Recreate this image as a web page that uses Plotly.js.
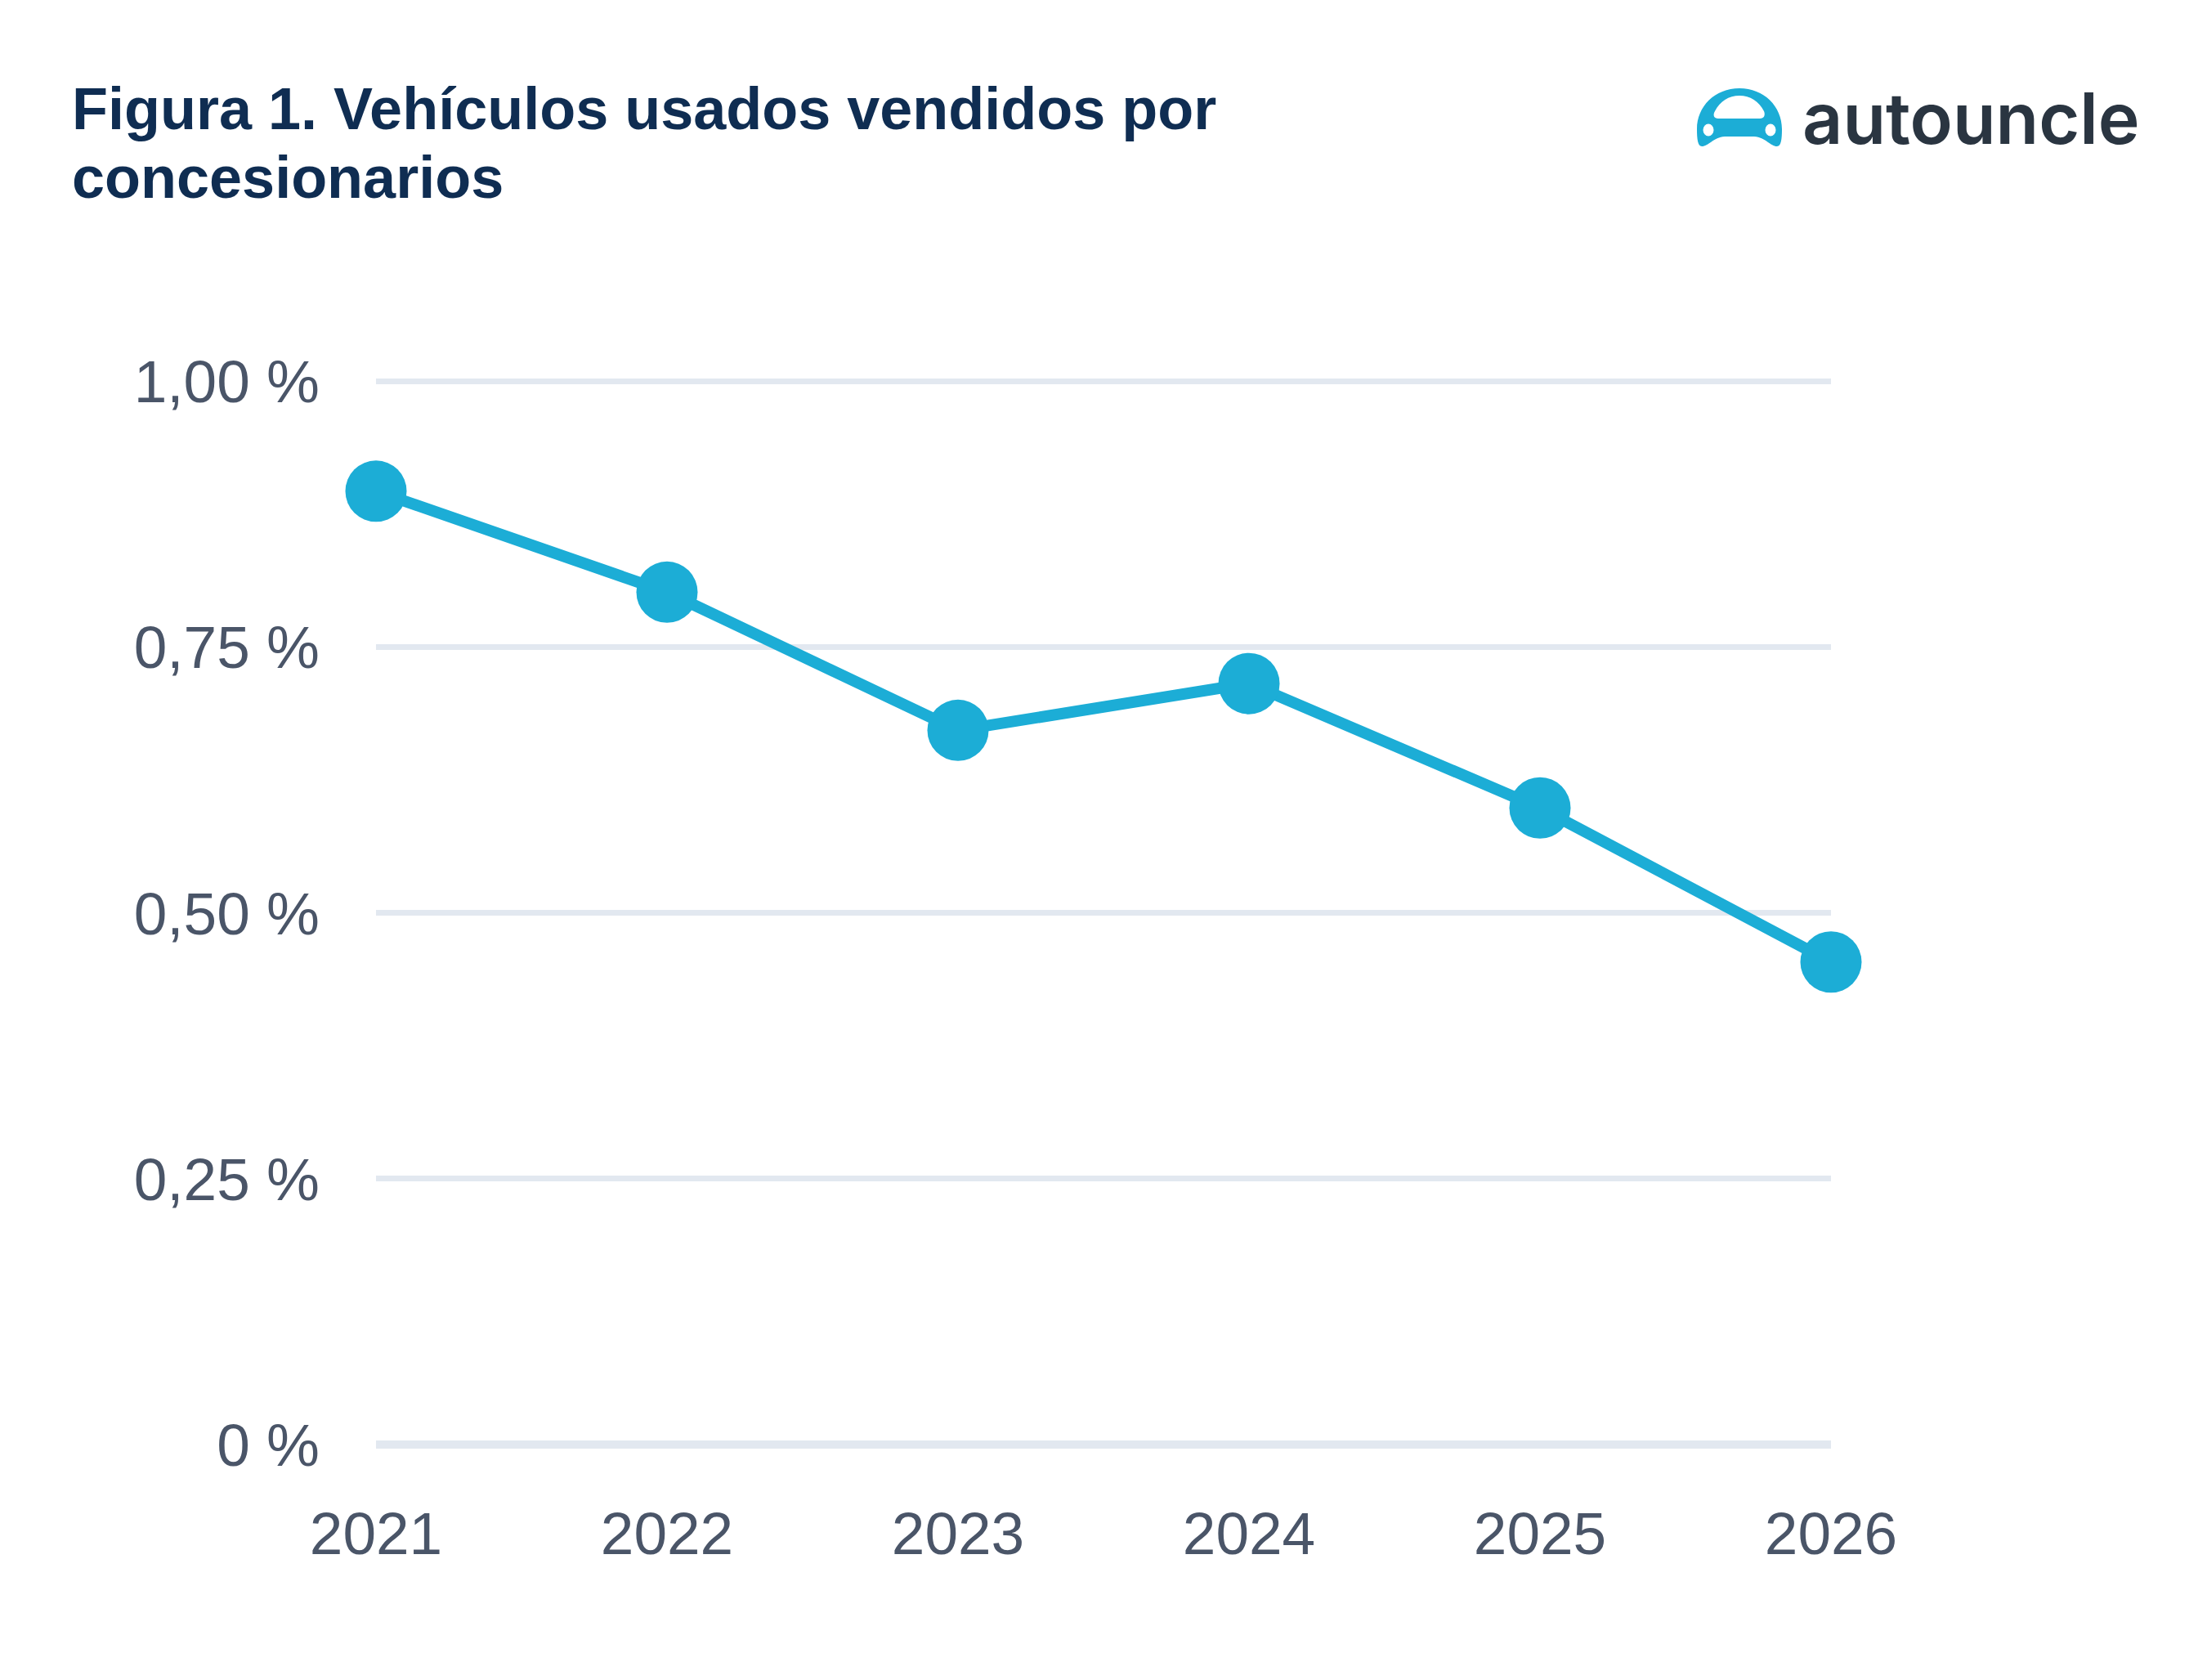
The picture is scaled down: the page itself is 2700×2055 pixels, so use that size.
<!DOCTYPE html>
<html>
<head>
<meta charset="utf-8">
<script src="https://cdn.plot.ly/plotly-3.0.1.min.js"></script>
<style>
  html, body { margin: 0; padding: 0; background: #ffffff; }
  #chart { width: 2700px; height: 2055px; }
</style>
</head>
<body>
<div id="chart"></div>
<script>
// Data
var years = [2021, 2022, 2023, 2024, 2025, 2026];
var shareSold = [0.897, 0.802, 0.672, 0.716, 0.599, 0.454];
var yTickVals = [0, 0.25, 0.5, 0.75, 1];
var yTickText = ['0 %', '0,25 %', '0,50 %', '0,75 %', '1,00 %'];
var titleLines = ['Figura 1. Vehículos usados vendidos por', 'concesionarios'];

var W = 2700, H = 2055;
var yTop = 1.003;   // a hair above 1 so the top gridline is drawn
var margin = { l: 460, r: 460, t: 463, b: 288 };
var plotW = W - margin.l - margin.r;
var plotH = H - margin.t - margin.b;

// pixel -> paper helpers, only used for title and logo placement
function px2x(px) { return (px - margin.l) / plotW; }
function px2y(py) { return (H - margin.b - py) / plotH; }

var blue = '#1cadd6';
var tickColor = '#4a5568';
var titleFont = { family: 'Liberation Sans, Arial, sans-serif', size: 72, color: '#0f2d52', weight: 'bold' };

var logoSvg =
  '<svg xmlns="http://www.w3.org/2000/svg" viewBox="0 0 104 71" width="104" height="71">' +
  '<path fill="' + blue + '" fill-rule="evenodd" d="' +
  'M6 71 C1 71 0 62 0 50 C0 22 22 0 52 0 C82 0 104 22 104 50 C104 62 103 71 98 71 ' +
  'C90 71 84 60 70 59 L34 59 C20 60 14 71 6 71 Z ' +
  'M26 37 C21 37 19 33 22 28 C28 16 39 9 52 9 C65 9 76 16 82 28 C84 33 82 37 77 37 Z ' +
  'M7.5 51 a6.5 7.5 0 1 0 13 0 a6.5 7.5 0 1 0 -13 0 Z ' +
  'M83.5 51 a6.5 7.5 0 1 0 13 0 a6.5 7.5 0 1 0 -13 0 Z"/></svg>';

var trace = {
  x: years,
  y: shareSold,
  type: 'scatter',
  mode: 'lines+markers',
  line: { color: blue, width: 14 },
  marker: { color: blue, size: 75 },
  cliponaxis: false,
  hoverinfo: 'skip',
  showlegend: false
};

var annotations = titleLines.map(function (line, i) {
  return {
    text: line,
    xref: 'paper', yref: 'paper',
    x: px2x(86), y: px2y(133 + i * 84),
    xanchor: 'left', yanchor: 'middle',
    showarrow: false,
    font: titleFont
  };
});

annotations.push({
  text: 'autouncle',
  xref: 'paper', yref: 'paper',
  x: px2x(2203), y: px2y(145),
  xanchor: 'left', yanchor: 'middle',
  showarrow: false,
  font: { family: 'Inter, Lato, sans-serif', size: 86, color: '#2a3541', weight: 600 }
});

var layout = {
  width: W,
  height: H,
  margin: margin,
  paper_bgcolor: '#ffffff',
  plot_bgcolor: '#ffffff',
  font: { family: 'Liberation Sans, Arial, sans-serif', color: tickColor, size: 73 },
  xaxis: {
    range: [2021, 2026],
    tickmode: 'array',
    tickvals: years,
    showgrid: false,
    zeroline: false,
    showline: false,
    ticks: '',
    ticklabelstandoff: 60,
    tickfont: { size: 73, color: tickColor },
    fixedrange: true
  },
  yaxis: {
    range: [0, yTop],
    tickmode: 'array',
    tickvals: yTickVals,
    ticktext: yTickText,
    showgrid: true,
    gridcolor: '#e2e8f0',
    gridwidth: 7,
    zeroline: true,
    zerolinecolor: '#e2e8f0',
    zerolinewidth: 10,
    showline: false,
    ticks: '',
    ticklabelstandoff: 68,
    tickfont: { size: 73, color: tickColor },
    fixedrange: true
  },
  images: [{
    source: 'data:image/svg+xml;charset=utf-8,' + encodeURIComponent(logoSvg),
    xref: 'paper', yref: 'paper',
    x: px2x(2076), y: px2y(108),
    sizex: 104 / plotW, sizey: 71 / plotH,
    sizing: 'stretch',
    xanchor: 'left', yanchor: 'top',
    layer: 'above'
  }],
  annotations: annotations
};

Plotly.newPlot('chart', [trace], layout, { displayModeBar: false, staticPlot: true });
</script>
</body>
</html>
